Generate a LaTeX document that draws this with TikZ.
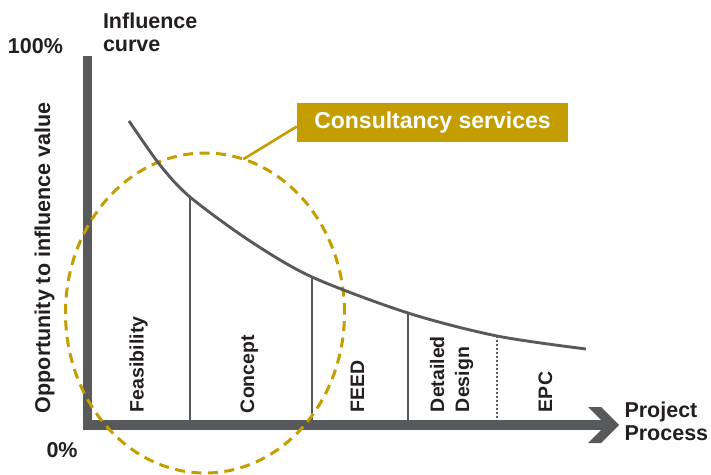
\documentclass[tikz,border=0pt]{standalone}
\usepackage{fontspec}
\setmainfont{Liberation Sans}
\usetikzlibrary{shapes.geometric}
\definecolor{gold}{RGB}{196,158,0}
\definecolor{axisgray}{RGB}{88,89,91}
\definecolor{txt}{RGB}{35,31,32}
\begin{document}
\begin{tikzpicture}[x=1pt,y=-1pt,
  lbl/.style={font=\fontsize{21.5}{23}\selectfont\bfseries, text=txt, inner sep=0pt, outer sep=0pt},
  phase/.style={font=\fontsize{19.5}{25}\selectfont\bfseries, text=txt, inner sep=0pt, outer sep=0pt, rotate=90},
  axisline/.style={draw=axisgray, line width=9.5pt, line join=miter},
  divider/.style={draw=axisgray, line width=2.5pt},
  dotdivider/.style={draw=axisgray, line width=1.8pt, dash pattern=on 1.5pt off 2.5pt},
  curveline/.style={draw=axisgray, line width=2.9pt},
  callout/.style={fill=gold, text=white, inner sep=0pt, minimum width=271pt, minimum height=39pt, font=\fontsize{23}{26}\selectfont\bfseries},
  zone/.style={ellipse, draw=gold, line width=3pt, dash pattern=on 10pt off 6.5pt, minimum width=279pt, minimum height=320pt, inner sep=0pt, outer sep=0pt},
  leader/.style={draw=gold, line width=2.6pt}
]
\useasboundingbox (0,0) rectangle (711,474);

% axes
\coordinate (ytop) at (87.5,56);
\coordinate (origin) at (87.5,425);
\coordinate (xend) at (607,425);
\coordinate (axtop) at (0,420.25);
\draw[axisline] (ytop) -- (origin) -- (xend);
\fill[axisgray] (588,407) -- (601,407) -- (619,425) -- (601,443) -- (588,443) -- (606,425) -- cycle;

% curve points
\coordinate (p1) at (190,197);
\coordinate (p2) at (312,277);
\coordinate (p3) at (408,313);
\coordinate (p4) at (497,336);

% dividers
\draw[divider] (p1) -- (p1 |- axtop);
\draw[divider] (p2) -- (p2 |- axtop);
\draw[divider] (p3) -- (p3 |- axtop);
\draw[dotdivider] (p4) -- (p4 |- axtop);

% consultancy zone
\node[zone] (ell) at (205,313) {};

% influence curve
\draw[curveline] plot[smooth] coordinates {(129,121) (160,165) (p1) (250,241) (p2) (p3) (p4) (586,349)};

% callout
\node[callout] (cs) at (432.5,122.5) {Consultancy services};
\draw[leader] (ell.76) -- ([yshift=-4pt]cs.west);

% labels
\node[lbl, anchor=north west, align=left] (infl) at (103,13.3) {Influence\\curve};
\node[lbl, anchor=base west] (hundred) at (8,53) {100\%};
\node[lbl, anchor=base west] (zero) at (46.5,457) {0\%};
\node[lbl, anchor=north west, align=left] (proj) at (624.5,402) {Project\\Process};
\node[lbl, rotate=90, anchor=base west] (ylab) at (50,413) {Opportunity to influence value};

% phases
\node[phase, anchor=base west] (feas) at (143.5,412) {Feasibility};
\node[phase, anchor=base west] (conc) at (254,413) {Concept};
\node[phase, anchor=base west] (feed) at (364,412) {FEED};
\node[phase, anchor=west, align=left] (dd) at (451.5,412) {Detailed\\Design};
\node[phase, anchor=base west] (epc) at (552,412) {EPC};
\end{tikzpicture}
\end{document}
